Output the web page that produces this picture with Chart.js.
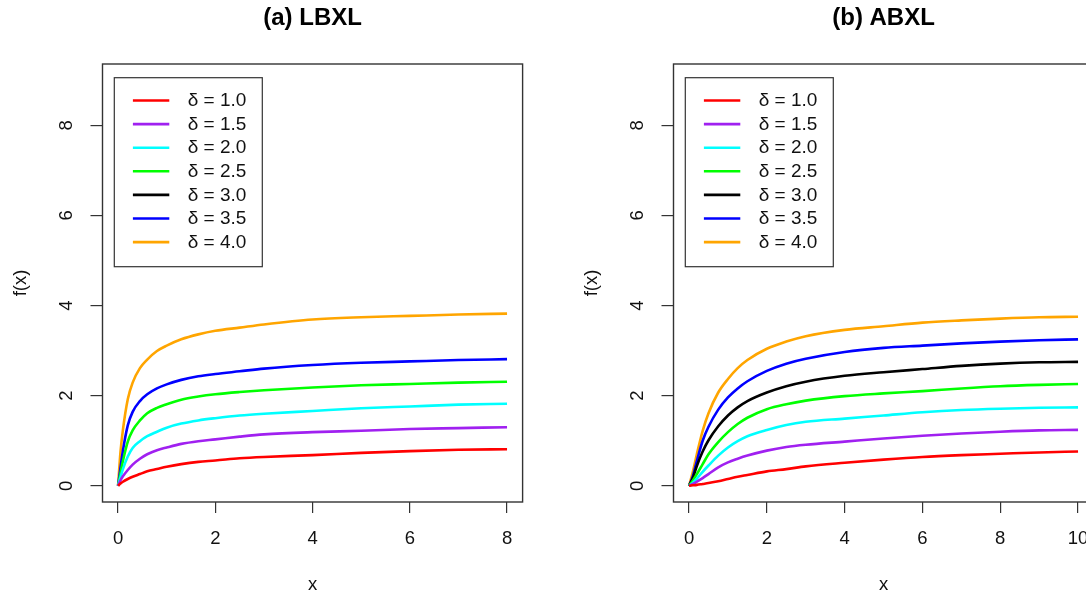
<!DOCTYPE html>
<html>
<head>
<meta charset="utf-8">
<script src="https://cdn.jsdelivr.net/npm/chart.js@4/dist/chart.umd.min.js"></script>
<style>
  html, body { margin: 0; padding: 0; background: #fff; overflow: hidden; width: 1086px; height: 597px; }
  canvas { position: absolute; top: 0; }
  #c1 { left: 0; }
  #c2 { left: 571px; }
</style>
</head>
<body>
<canvas id="c1" width="571" height="597"></canvas>
<canvas id="c2" width="571" height="597"></canvas>
<script>
// ---------- data ----------
const deltaLabels = ['δ = 1.0', 'δ = 1.5', 'δ = 2.0', 'δ = 2.5', 'δ = 3.0', 'δ = 3.5', 'δ = 4.0'];
const lineColors = ['#FF0000', '#A020F0', '#00FFFF', '#00FF00', '#000000', '#0000FF', '#FFA500'];

const yTicks = [0, 2, 4, 6, 8];
const lbxlXTicks = [0, 2, 4, 6, 8];
const abxlXTicks = [0, 2, 4, 6, 8, 10];

// (a) LBXL
const lbxlX   = [0, 0.05, 0.1, 0.2, 0.3, 0.45, 0.6, 0.8, 1, 1.3, 1.65, 2, 2.5, 3, 4, 5, 6, 7, 8];
const lbxlD10 = [0, 0.05, 0.09, 0.15, 0.20, 0.26, 0.32, 0.37, 0.42, 0.48, 0.53, 0.56, 0.61, 0.64, 0.68, 0.73, 0.77, 0.80, 0.81];
const lbxlD15 = [0, 0.12, 0.21, 0.35, 0.47, 0.60, 0.70, 0.79, 0.85, 0.93, 0.99, 1.03, 1.09, 1.14, 1.19, 1.22, 1.26, 1.28, 1.30];
const lbxlD20 = [0, 0.19, 0.37, 0.65, 0.84, 0.99, 1.10, 1.20, 1.29, 1.38, 1.45, 1.50, 1.56, 1.60, 1.66, 1.72, 1.76, 1.80, 1.82];
const lbxlD25 = [0, 0.28, 0.55, 0.98, 1.23, 1.45, 1.61, 1.73, 1.81, 1.91, 1.98, 2.03, 2.08, 2.12, 2.18, 2.23, 2.26, 2.29, 2.31];
const lbxlD30 = []; // not drawn in panel (a)
const lbxlD35 = [0, 0.40, 0.78, 1.34, 1.64, 1.88, 2.03, 2.16, 2.25, 2.35, 2.43, 2.48, 2.54, 2.60, 2.68, 2.73, 2.76, 2.79, 2.81];
const lbxlD40 = [0, 0.75, 1.24, 1.92, 2.29, 2.61, 2.80, 2.99, 3.11, 3.25, 3.36, 3.44, 3.51, 3.58, 3.69, 3.74, 3.77, 3.80, 3.82];

// (b) ABXL
const abxlX   = [0, 0.1, 0.2, 0.35, 0.5, 0.75, 1, 1.25, 1.5, 2, 2.5, 3, 4, 5, 6, 7, 8, 9, 10];
const abxlD10 = [0, 0.01, 0.02, 0.04, 0.06, 0.10, 0.15, 0.20, 0.24, 0.32, 0.37, 0.43, 0.51, 0.58, 0.64, 0.68, 0.71, 0.74, 0.76];
const abxlD15 = [0, 0.04, 0.09, 0.17, 0.26, 0.41, 0.52, 0.60, 0.67, 0.78, 0.86, 0.91, 0.98, 1.05, 1.11, 1.16, 1.20, 1.23, 1.24];
const abxlD20 = [0, 0.07, 0.16, 0.31, 0.45, 0.67, 0.85, 0.99, 1.10, 1.24, 1.35, 1.42, 1.49, 1.56, 1.63, 1.68, 1.71, 1.73, 1.74];
const abxlD25 = [0, 0.12, 0.26, 0.48, 0.70, 0.97, 1.19, 1.37, 1.51, 1.70, 1.81, 1.89, 1.99, 2.05, 2.10, 2.16, 2.21, 2.24, 2.26];
const abxlD30 = [0, 0.18, 0.44, 0.76, 1.01, 1.32, 1.56, 1.74, 1.88, 2.07, 2.21, 2.31, 2.44, 2.52, 2.59, 2.66, 2.71, 2.74, 2.75];
const abxlD35 = [0, 0.22, 0.55, 1.00, 1.31, 1.69, 1.96, 2.16, 2.32, 2.55, 2.71, 2.82, 2.97, 3.06, 3.11, 3.16, 3.20, 3.23, 3.25];
const abxlD40 = [0, 0.32, 0.70, 1.22, 1.61, 2.07, 2.37, 2.61, 2.79, 3.04, 3.20, 3.32, 3.46, 3.54, 3.62, 3.67, 3.71, 3.74, 3.75];

// ---------- rendering ----------
const FONT = '"Liberation Sans", Arial, sans-serif';

function pts(xs, ys) { return ys.map((y, i) => ({ x: xs[i], y: y })); }

function makeDatasets(xs, series) {
  return series.map((ys, i) => ({
    label: deltaLabels[i],
    data: pts(xs, ys),
    borderColor: lineColors[i],
    backgroundColor: lineColors[i],
    borderWidth: 2.6,
    pointRadius: 0,
    cubicInterpolationMode: 'monotone',
    fill: false
  }));
}

const rBoxPlugin = {
  id: 'rBox',
  afterDraw(chart) {
    const { ctx, chartArea: ca } = chart;
    ctx.save();
    // plot box
    ctx.strokeStyle = '#333';
    ctx.lineWidth = 1.4;
    ctx.strokeRect(ca.left, ca.top, ca.right - ca.left, ca.bottom - ca.top);
    // legend box
    const lx = ca.left + 11.8, ly = ca.top + 13.7;
    ctx.lineWidth = 1.2;
    ctx.strokeRect(lx, ly, 148, 189);
    chart.data.datasets.forEach((ds, i) => {
      const y = ca.top + 36.5 + i * 23.6;
      ctx.strokeStyle = ds.borderColor;
      ctx.lineWidth = 2.6;
      ctx.beginPath();
      ctx.moveTo(ca.left + 30.4, y);
      ctx.lineTo(ca.left + 66.8, y);
      ctx.stroke();
      ctx.fillStyle = '#111';
      ctx.font = '19px ' + FONT;
      ctx.textBaseline = 'middle';
      ctx.textAlign = 'left';
      ctx.fillText(ds.label, ca.left + 85.2, y + 0.5);
    });
    ctx.restore();
  }
};

function makeChart(id, title, xs, series, xMax, xTicks) {
  const pad = xMax * 0.04;
  return new Chart(document.getElementById(id), {
    type: 'line',
    data: { datasets: makeDatasets(xs, series) },
    options: {
      responsive: false,
      animation: false,
      layout: { padding: { left: 0, right: 48.4, top: 0, bottom: 0 } },
      plugins: {
        legend: { display: false },
        tooltip: { enabled: false },
        title: {
          display: true,
          text: title,
          fullSize: false,
          color: '#000',
          font: { family: FONT, size: 24, weight: 'bold' },
          padding: { top: 3.6, bottom: 31.6 }
        }
      },
      scales: {
        x: {
          type: 'linear',
          min: -pad, max: xMax + pad,
          afterBuildTicks: s => { s.ticks = xTicks.map(v => ({ value: v })); },
          afterFit: s => { s.height = 95; },
          grid: { drawOnChartArea: false, drawTicks: true, tickLength: 11, color: '#333', lineWidth: 1.2 },
          border: { display: false },
          ticks: { color: '#111', font: { family: FONT, size: 18.5 }, padding: 14.5, maxRotation: 0, autoSkip: false },
          title: { display: true, text: 'x', color: '#111', font: { family: FONT, size: 18.5 }, padding: { top: 0, bottom: 0.5 } }
        },
        y: {
          type: 'linear',
          min: -0.36, max: 9.36,
          afterBuildTicks: s => { s.ticks = yTicks.map(v => ({ value: v })); },
          afterFit: s => { s.width = 102.5; },
          grid: { drawOnChartArea: false, drawTicks: true, tickLength: 12, color: '#333', lineWidth: 1.2 },
          border: { display: false },
          ticks: { color: '#111', font: { family: FONT, size: 18.5 }, padding: 18, minRotation: 90, maxRotation: 90, crossAlign: 'center', autoSkip: false },
          title: { display: true, text: 'f(x)', color: '#111', font: { family: FONT, size: 18.5 }, padding: { top: 9.4, bottom: 0 } }
        }
      }
    },
    plugins: [rBoxPlugin]
  });
}

makeChart('c1', '(a) LBXL', lbxlX,
  [lbxlD10, lbxlD15, lbxlD20, lbxlD25, lbxlD30, lbxlD35, lbxlD40], 8, lbxlXTicks);
makeChart('c2', '(b) ABXL', abxlX,
  [abxlD10, abxlD15, abxlD20, abxlD25, abxlD30, abxlD35, abxlD40], 10, abxlXTicks);
</script>
</body>
</html>
